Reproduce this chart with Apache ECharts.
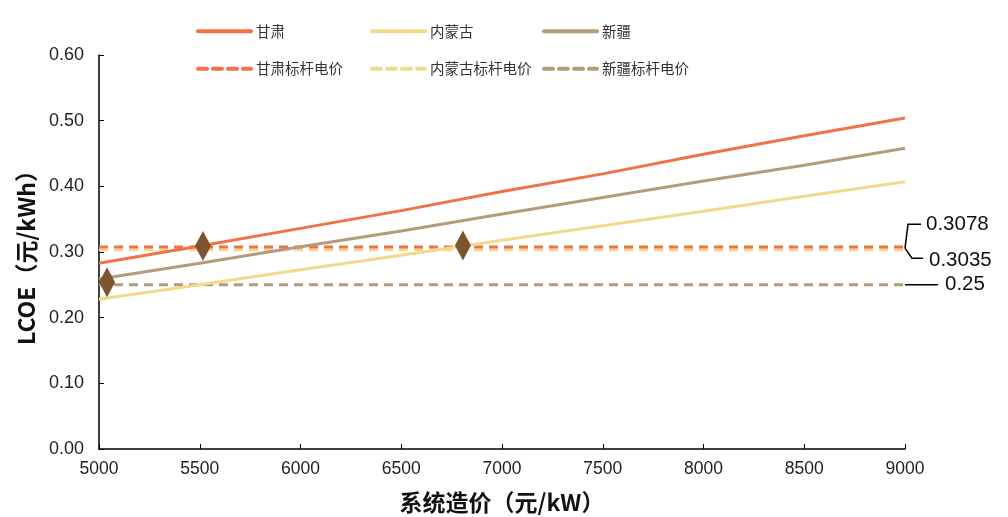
<!DOCTYPE html>
<html>
<head>
<meta charset="utf-8">
<script src="https://cdn.jsdelivr.net/npm/echarts@6/dist/echarts.min.js"></script>
<style>
html,body{margin:0;padding:0;background:#fff;}
#chart{width:1008px;height:517px;}
</style>
</head>
<body>
<div id="chart"></div>
<script>
// System cost (yuan/kW) on the x axis
const costs = [5000, 5500, 6000, 6500, 7000, 7500, 8000, 8500, 9000];
// LCOE (yuan/kWh) by region
const gansu = [0.283, 0.309, 0.336, 0.363, 0.392, 0.419, 0.449, 0.477, 0.504];
const neimenggu = [0.228, 0.250, 0.273, 0.295, 0.318, 0.340, 0.362, 0.385, 0.407];
const xinjiang = [0.259, 0.283, 0.308, 0.332, 0.358, 0.383, 0.408, 0.432, 0.458];
// Benchmark tariffs
const benchGansu = 0.3078;
const benchNeimenggu = 0.3035;
const benchXinjiang = 0.25;
// Break-even markers [cost, LCOE]
const breakEven = [[5040, 0.254], [5516, 0.309], [6806, 0.310]];
const yTicks = [0, 0.1, 0.2, 0.3, 0.4, 0.5, 0.6];

const C_GS = '#EF7249', C_NM = '#F1DA8C', C_XJ = '#B39C7C', C_MK = '#7C552F';
const cjk = '"Noto Sans CJK SC", "Liberation Sans", sans-serif';
const latin = '"Liberation Sans", Arial, sans-serif';

function pairs(vals) { return costs.map((c, i) => [c, vals[i]]); }
function flat(v) { return [[costs[0], v], [costs[costs.length - 1], v]]; }

const chart = echarts.init(document.getElementById('chart'), null, {renderer: 'canvas'});

// Legend icons: line only, no point symbol
const legendBase = {
  orient: 'vertical', top: 24, padding: 0, itemWidth: 53, itemHeight: 14, itemGap: 23,
  textStyle: {fontFamily: cjk, fontSize: 14.5, color: '#333'},
  lineStyle: {width: 4, cap: 'round'},
  itemStyle: {color: 'rgba(0,0,0,0)', borderWidth: 0, borderColor: 'rgba(0,0,0,0)'}
};

const option = {
  animation: false,
  backgroundColor: '#fff',
  grid: {left: 99, right: 103, top: 55, bottom: 68, containLabel: false, outerBoundsMode: 'none'},
  legend: [
    Object.assign({}, legendBase, {left: 196, data: ['甘肃', '甘肃标杆电价']}),
    Object.assign({}, legendBase, {left: 370, data: ['内蒙古', '内蒙古标杆电价']}),
    Object.assign({}, legendBase, {left: 542, data: ['新疆', '新疆标杆电价']})
  ],
  xAxis: {
    type: 'value', min: 5000, max: 9000, interval: 500,
    name: '系统造价（元/kW）', nameLocation: 'middle', nameGap: 42,
    nameTextStyle: {fontFamily: cjk, fontSize: 23, fontWeight: 'bold', color: '#111'},
    axisLine: {lineStyle: {color: '#000', width: 1.5}},
    axisTick: {inside: true, length: 5, lineStyle: {color: '#000'}},
    axisLabel: {fontFamily: latin, fontSize: 17.5, color: '#222', margin: 11,
      formatter: v => String(v)},
    splitLine: {show: false}
  },
  yAxis: {
    type: 'value', min: yTicks[0], max: yTicks[yTicks.length - 1], interval: 0.1,
    name: 'LCOE（元/kWh）', nameLocation: 'middle', nameGap: 60,
    nameTextStyle: {fontFamily: cjk, fontSize: 23, fontWeight: 'bold', color: '#111'},
    axisLine: {show: true, lineStyle: {color: '#000', width: 1.5}},
    axisTick: {show: true, inside: true, length: 5, lineStyle: {color: '#000'}},
    axisLabel: {fontFamily: latin, fontSize: 18, color: '#222', margin: 15,
      formatter: v => v.toFixed(2)},
    splitLine: {show: false}
  },
  series: [
    {name: '甘肃', type: 'line', data: pairs(gansu), symbol: 'none', color: C_GS, lineStyle: {width: 3}, z: 3},
    {name: '内蒙古', type: 'line', data: pairs(neimenggu), symbol: 'none', color: C_NM, lineStyle: {width: 3}, z: 3},
    {name: '新疆', type: 'line', data: pairs(xinjiang), symbol: 'none', color: C_XJ, lineStyle: {width: 3}, z: 3},
    {name: '甘肃标杆电价', type: 'line', data: flat(benchGansu), symbol: 'none', color: C_GS,
      lineStyle: {width: 3, type: [9, 6]}, z: 2},
    {name: '内蒙古标杆电价', type: 'line', data: flat(benchNeimenggu), symbol: 'none', color: C_NM,
      lineStyle: {width: 3, type: [9, 6]}, z: 1},
    {name: '新疆标杆电价', type: 'line', data: flat(benchXinjiang), symbol: 'none', color: C_XJ,
      lineStyle: {width: 3, type: [9, 6]}, z: 2},
    {name: 'breakEven', type: 'scatter', data: breakEven, symbol: 'diamond', symbolSize: [16, 30],
      itemStyle: {color: C_MK, opacity: 1}, z: 5}
  ]
};
chart.setOption(option);

// Right-hand callouts for the benchmark tariffs
const xEnd = costs[costs.length - 1];
const pG = chart.convertToPixel({gridIndex: 0}, [xEnd, benchGansu]);
const pN = chart.convertToPixel({gridIndex: 0}, [xEnd, benchNeimenggu]);
const pX = chart.convertToPixel({gridIndex: 0}, [xEnd, benchXinjiang]);
const lblFont = {fontFamily: latin, fontSize: 20.5, fill: '#111'};
const midY = (pG[1] + pN[1]) / 2;
chart.setOption({
  graphic: [
    {type: 'polyline', shape: {points: [[pG[0], midY], [pG[0] + 3, midY - 24], [pG[0] + 16, midY - 24]]},
      style: {stroke: '#000', lineWidth: 1.5, fill: null}},
    {type: 'polyline', shape: {points: [[pG[0], midY], [pG[0] + 7, midY + 10], [pG[0] + 18, midY + 10]]},
      style: {stroke: '#000', lineWidth: 1.5, fill: null}},
    {type: 'text', x: pG[0] + 21, y: midY - 24, style: Object.assign({text: benchGansu.toFixed(4), verticalAlign: 'middle'}, lblFont)},
    {type: 'text', x: pG[0] + 24, y: midY + 12, style: Object.assign({text: benchNeimenggu.toFixed(4), verticalAlign: 'middle'}, lblFont)},
    {type: 'line', shape: {x1: pX[0], y1: pX[1], x2: pX[0] + 33, y2: pX[1]}, style: {stroke: '#000', lineWidth: 1.5}},
    {type: 'text', x: pX[0] + 40, y: pX[1], style: Object.assign({text: benchXinjiang.toFixed(2), verticalAlign: 'middle'}, lblFont)}
  ]
});
</script>
</body>
</html>
